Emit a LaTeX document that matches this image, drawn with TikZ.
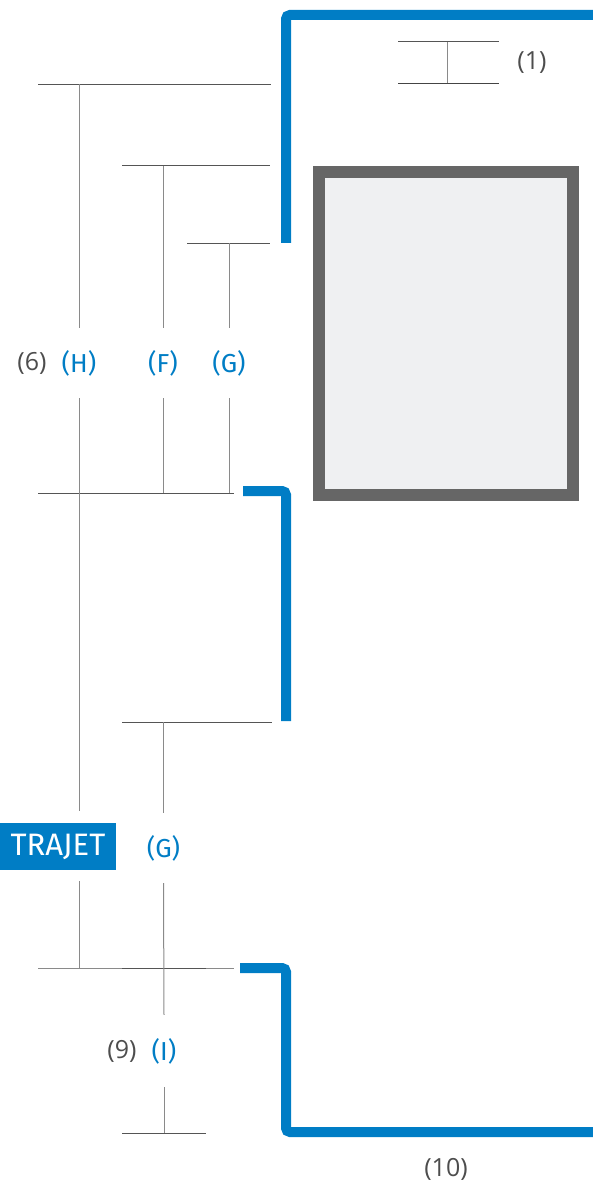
\documentclass[tikz,border=0pt]{standalone}
\usepackage{fontspec}
\setmainfont{Open Sans}
\newfontfamily\labfont{Fira Sans}
\definecolor{bblue}{HTML}{007DC5}
\definecolor{tgray}{HTML}{4D4D4D}
\definecolor{hgray}{HTML}{555555}
\definecolor{vgray}{HTML}{8A8A8A}
\definecolor{fgray}{HTML}{666666}
\definecolor{ffill}{HTML}{EFF0F2}
\begin{document}
\begin{tikzpicture}[x=1pt,y=-1pt,
  hline/.style={draw=hgray,line width=1pt},
  hthick/.style={draw=hgray!80!black,line width=1.6pt},
  vline/.style={draw=vgray,line width=1pt},
  bluepath/.style={draw=bblue,line width=10pt,rounded corners=4pt},
  blab/.style={text=bblue,font=\labfont\fontsize{26}{26}\selectfont,inner sep=0pt,minimum height=70pt},
  glab/.style={text=tgray,font=\fontsize{25}{25}\selectfont,inner sep=0pt},
  trajet/.style={fill=bblue,text=white,font=\labfont\fontsize{31}{31}\selectfont,inner sep=0pt,minimum width=116pt,minimum height=47pt}
]
\useasboundingbox (0,0) rectangle (593,1182);
% gray frame
\draw[draw=fgray,fill=ffill,line width=12pt] (319,172) rectangle (572.5,495);
% blue paths
\coordinate (b1s) at (286,243);
\coordinate (b1c) at (286,15);
\coordinate (b1e) at (598,15);
\draw[bluepath] (b1s) -- (b1c) -- (b1e);
\coordinate (b2s) at (243,491);
\coordinate (b2c) at (286,491);
\coordinate (b2e) at (286,721);
\draw[bluepath] (b2s) -- (b2c) -- (b2e);
\coordinate (b3s) at (240,968);
\coordinate (b3c) at (286,968);
\coordinate (b3d) at (286,1132);
\coordinate (b3e) at (598,1132);
\draw[bluepath] (b3s) -- (b3c) -- (b3d) -- (b3e);
% top right bracket (1)
\coordinate (t1l) at (398,42); \coordinate (t1r) at (499,42);
\coordinate (t2l) at (398,83.5); \coordinate (t2r) at (499,83.5);
\coordinate (t1m) at (447,42); \coordinate (t2m) at (447,83.5);
\draw[hline] (t1l) -- (t1r);
\draw[hthick] (t2l) -- (t2r);
\draw[vline] (t1m) -- (t2m);
\node[glab] (n1) at (532,63) {(1)};
% labels
\node[glab] (n6) at (32,363) {(6)};
\node[blab] (H) at (79,363) {(H)};
\node[blab] (F) at (163,363) {(F)};
\node[blab] (G1) at (229,363) {(G)};
\node[trajet] (T) at (58,846.5) {TRAJET};
\node[blab] (G2) at (163.5,848) {(G)};
\node[glab] (n9) at (122,1051) {(9)};
\node[blab,minimum height=72pt] (I) at (164,1051) {(I)};
\node[glab] (n10) at (446,1169) {(10)};
% top horizontals
\coordinate (h1l) at (38,84.5); \coordinate (h1r) at (271,84.5); \coordinate (h1v) at (79,84.5);
\coordinate (h2l) at (122,166); \coordinate (h2r) at (270,166); \coordinate (h2v) at (163,166);
\coordinate (h3l) at (187,243.5); \coordinate (h3r) at (270,243.5); \coordinate (h3v) at (229,243.5);
\draw[hline] (h1l) -- (h1r);
\draw[hline] (h2l) -- (h2r);
\draw[hline] (h3l) -- (h3r);
\draw[vline] (h1v) -- (H.north);
\draw[vline] (h2v) -- (F.north);
\draw[vline] (h3v) -- (G1.north);
% join line at 493
\coordinate (j1l) at (38,493); \coordinate (j1r) at (234,493);
\coordinate (j1F) at (163,493); \coordinate (j1G) at (229,493);
\draw[hline] (j1l) -- (j1r);
\draw[vline] (F.south) -- (j1F);
\draw[vline] (G1.south) -- (j1G);
\coordinate (Hbot) at (79,811);
\coordinate (Htop2) at (79,881);
\coordinate (j2H) at (79,968.5);
\draw[vline] (H.south) -- (Hbot);
\draw[vline] (Htop2) -- (j2H);
% line at 722
\coordinate (h4l) at (122,722); \coordinate (h4r) at (272,722); \coordinate (h4v) at (163.5,722);
\draw[hline] (h4l) -- (h4r);
\draw[vline] (h4v) -- (G2.north);
% join line at 968
\coordinate (j2l) at (38,968.5); \coordinate (j2r) at (234,968.5);
\coordinate (j2al) at (122,968.5); \coordinate (j2ar) at (206,968.5);
\draw[hline,draw=vgray] (j2l) -- (j2r);
\draw[hline] (j2al) -- (j2ar);
\draw[vline] (G2.south) -- (I.north);
% bottom line
\coordinate (h5l) at (122,1133); \coordinate (h5r) at (206,1133); \coordinate (h5v) at (164,1133);
\draw[hline] (h5l) -- (h5r);
\draw[vline] (I.south) -- (h5v);
\end{tikzpicture}
\end{document}
